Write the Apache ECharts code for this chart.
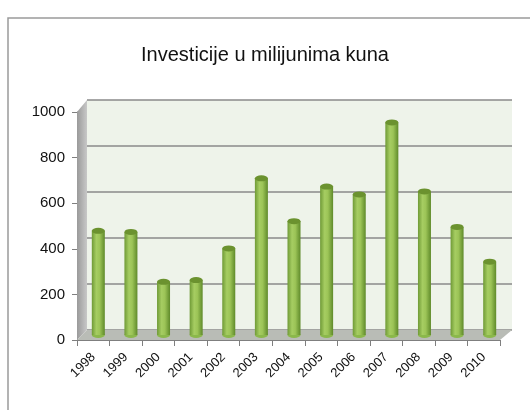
<!DOCTYPE html>
<html>
<head>
<meta charset="utf-8">
<script src="https://cdn.jsdelivr.net/npm/echarts@6/dist/echarts.min.js"></script>
<style>
  html, body { margin: 0; padding: 0; background: #fff; }
  #main { width: 530px; height: 410px; }
</style>
</head>
<body>
<div id="main"></div>
<script>
// podaci
var godine = ['1998', '1999', '2000', '2001', '2002', '2003', '2004', '2005', '2006', '2007', '2008', '2009', '2010'];
var investicije = [455, 450, 232, 240, 378, 684, 497, 648, 614, 928, 627, 472, 320];
var yTicks = [0, 200, 400, 600, 800, 1000];

var font = "'Liberation Sans', sans-serif";
var myChart = echarts.init(document.getElementById('main'));

var barColor = new echarts.graphic.LinearGradient(0, 0, 1, 0, [
    { offset: 0, color: '#6f9a36' },
    { offset: 0.35, color: '#a6cd62' },
    { offset: 0.6, color: '#9cc457' },
    { offset: 1, color: '#5f8a2a' }
]);

var option = {
    backgroundColor: '#fff',
    title: {
        text: 'Investicije u milijunima kuna',
        left: 'center',
        top: 40,
        textStyle: { fontFamily: font, fontWeight: 'normal', fontSize: 20, color: '#111' }
    },
    grid: [
        // prednja os s oznakama
        { left: 77, right: 30, top: 112, bottom: 70 },
        // straznji zid
        { left: 87, right: 18, top: 100, bottom: 80, show: true, backgroundColor: '#eef3ea', borderWidth: 0 },
        // stupci
        { left: 82, right: 24, top: 106, bottom: 75 }
    ],
    xAxis: [
        {
            gridIndex: 0, type: 'category', data: godine,
            axisLine: { lineStyle: { color: '#7f7f7f' } },
            axisTick: { show: true, length: 6, lineStyle: { color: '#7f7f7f' } },
            axisLabel: { rotate: 45, fontFamily: font, fontSize: 13, color: '#111', margin: 15 }
        },
        { gridIndex: 1, type: 'category', data: godine, show: false },
        { gridIndex: 2, type: 'category', data: godine, show: false }
    ],
    yAxis: [
        {
            gridIndex: 0, type: 'value', min: 0, max: 1000, interval: 200,
            axisLine: { show: true, lineStyle: { color: '#7f7f7f' } },
            axisTick: { show: true, length: 5, lineStyle: { color: '#7f7f7f' } },
            splitLine: { show: false },
            axisLabel: { fontFamily: font, fontSize: 15, color: '#111', margin: 12,
                formatter: function (v) { return yTicks.indexOf(v) >= 0 ? String(v) : ''; } }
        },
        {
            gridIndex: 1, type: 'value', min: 0, max: 1000, interval: 200,
            axisLine: { show: false }, axisTick: { show: false }, axisLabel: { show: false },
            splitLine: { show: true, lineStyle: { color: '#8a8a8a', width: 1.5 } }
        },
        { gridIndex: 2, type: 'value', min: 0, max: 1000, show: false }
    ],
    graphic: [
        // okvir
        { type: 'rect', shape: { x: 8, y: 18, width: 540, height: 420 }, style: { fill: 'none', stroke: '#9a9a9a', lineWidth: 1.5 }, z: 0 },
        // lijevi zid
        { type: 'polygon', shape: { points: [[77, 112], [87, 100], [87, 330], [77, 340]] },
          style: { fill: new echarts.graphic.LinearGradient(0, 0, 1, 0, [{ offset: 0, color: '#9a9a9a' }, { offset: 1, color: '#c8c8c8' }]) }, z: 1 },
        // pod
        { type: 'polygon', shape: { points: [[77, 340], [87, 330], [512, 330], [500, 340]] },
          style: { fill: '#b9bcb6' }, z: 1 }
    ],
    series: [
        {
            type: 'bar', xAxisIndex: 2, yAxisIndex: 2, data: investicije,
            barWidth: 13,
            itemStyle: { color: barColor },
            z: 5
        },
        {
            type: 'pictorialBar', xAxisIndex: 2, yAxisIndex: 2, data: investicije,
            symbol: 'circle', symbolSize: [13, 6], symbolPosition: 'end', symbolOffset: [0, '-50%'],
            itemStyle: { color: '#6b922f' },
            z: 6
        },
        {
            type: 'pictorialBar', xAxisIndex: 2, yAxisIndex: 2, data: investicije,
            symbol: 'circle', symbolSize: [13, 6], symbolPosition: 'start', symbolOffset: [0, '50%'],
            itemStyle: { color: '#8bb84b' },
            z: 4
        }
    ]
};
myChart.setOption(option);
</script>
</body>
</html>
